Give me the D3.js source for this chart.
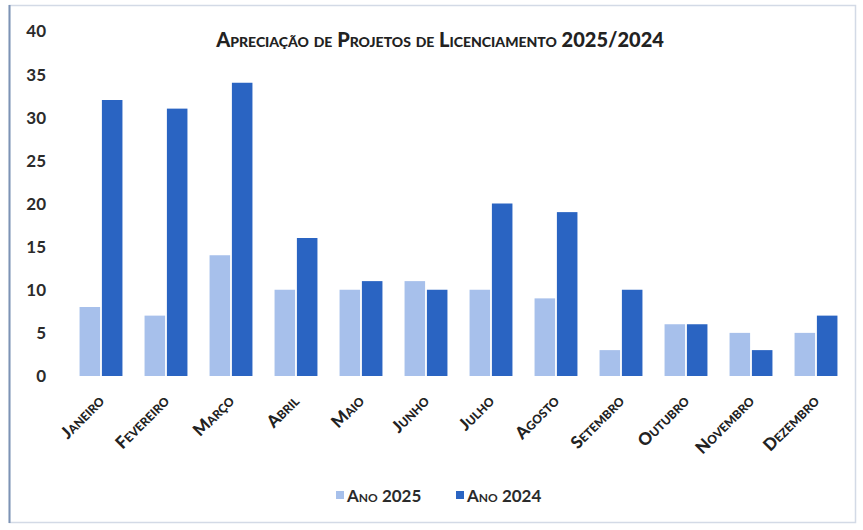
<!DOCTYPE html>
<html><head><meta charset="utf-8">
<script src="https://cdn.jsdelivr.net/npm/d3@7"></script>
<style>
html,body{margin:0;padding:0;background:#fff;}
text{font-family:Lato,"Open Sans",sans-serif;}
</style></head>
<body>
<svg id="chart" width="863" height="530"></svg>
<script>
const months = ["Janeiro","Fevereiro","Março","Abril","Maio","Junho","Julho","Agosto","Setembro","Outubro","Novembro","Dezembro"];
const seriesNames = ["Ano 2025","Ano 2024"];
const values2025 = [8,7,14,10,10,11,10,9,3,6,5,5];
const values2024 = [32,31,34,16,11,10,20,19,10,6,3,7];
const yTicks = [0,5,10,15,20,25,30,35,40];
const titleText = "Apreciação de Projetos de Licenciamento 2025/2024";
const colors = ["#a7c0eb","#2a64c2"];

const svg = d3.select("#chart");
// frame
svg.append("rect").attr("x",9.5).attr("y",5.5).attr("width",846).attr("height",517)
  .attr("fill","none").attr("stroke","#d3dae6").attr("stroke-width",1.5);
svg.append("line").attr("x1",9.5).attr("x2",9.5).attr("y1",5).attr("y2",523)
  .attr("stroke","#7d93b5").attr("stroke-width",2);

const x0 = d3.scaleBand().domain(months).range([68.5,848.5]).paddingInner(0.34).paddingOuter(0.17);
const x1 = d3.scaleBand().domain(seriesNames).range([0,x0.bandwidth()]).paddingInner(0.08);
const y = d3.scaleLinear().domain([0,40]).range([376,31]);

const data = months.map((m,i)=>({month:m, vals:[values2025[i],values2024[i]]}));

const g = svg.append("g");
const groups = g.selectAll("g.m").data(data).join("g").attr("class","m")
  .attr("transform",d=>`translate(${x0(d.month)},0)`);
groups.selectAll("rect").data(d=>d.vals.map((v,j)=>({s:seriesNames[j],v,j})))
  .join("rect")
  .attr("x",d=>x1(d.s)).attr("width",x1.bandwidth())
  .attr("y",d=>y(d.v)).attr("height",d=>y(0)-y(d.v))
  .attr("fill",d=>colors[d.j]);

// y axis labels
const yAxis = d3.axisLeft(y).tickValues(yTicks).tickSize(0).tickPadding(0);
const ya = svg.append("g").attr("transform","translate(46,0)").call(yAxis);
ya.select(".domain").remove();
ya.selectAll("text").attr("font-family","Lato, sans-serif").attr("font-size",17)
  .attr("font-weight",700).attr("fill","#2b2b2b").attr("dy","0.35em");

// x axis labels
const xAxis = d3.axisBottom(x0).tickSize(0).tickPadding(0);
const xa = svg.append("g").attr("transform","translate(0,0)").call(xAxis);
xa.select(".domain").remove();
xa.selectAll(".tick").attr("transform",d=>`translate(${x0(d)+x0.bandwidth()/2},398)`);
xa.selectAll("text").attr("font-family","Lato, sans-serif").attr("font-size",17)
  .attr("font-weight",900).attr("fill","#222").style("font-variant","small-caps")
  .attr("text-anchor","end").attr("y",0).attr("dy","0.35em")
  .attr("transform","rotate(-45)");

// title
svg.append("text").attr("x",440).attr("y",47).attr("text-anchor","middle")
  .attr("font-size",20).attr("font-weight",900).attr("fill","#222")
  .style("font-variant","small-caps").text(titleText);

// legend
const leg = svg.append("g").attr("transform","translate(0,496)");
const legItems = [{n:seriesNames[0],c:colors[0],x:336},{n:seriesNames[1],c:colors[1],x:456}];
legItems.forEach(it=>{
  leg.append("rect").attr("x",it.x).attr("y",-5).attr("width",8).attr("height",8).attr("fill",it.c);
  leg.append("text").attr("x",it.x+11).attr("y",0).attr("dy","0.35em")
    .attr("font-size",17).attr("font-weight",700).attr("fill","#2b2b2b")
    .style("font-variant","small-caps").text(it.n);
});
</script>
</body></html>
